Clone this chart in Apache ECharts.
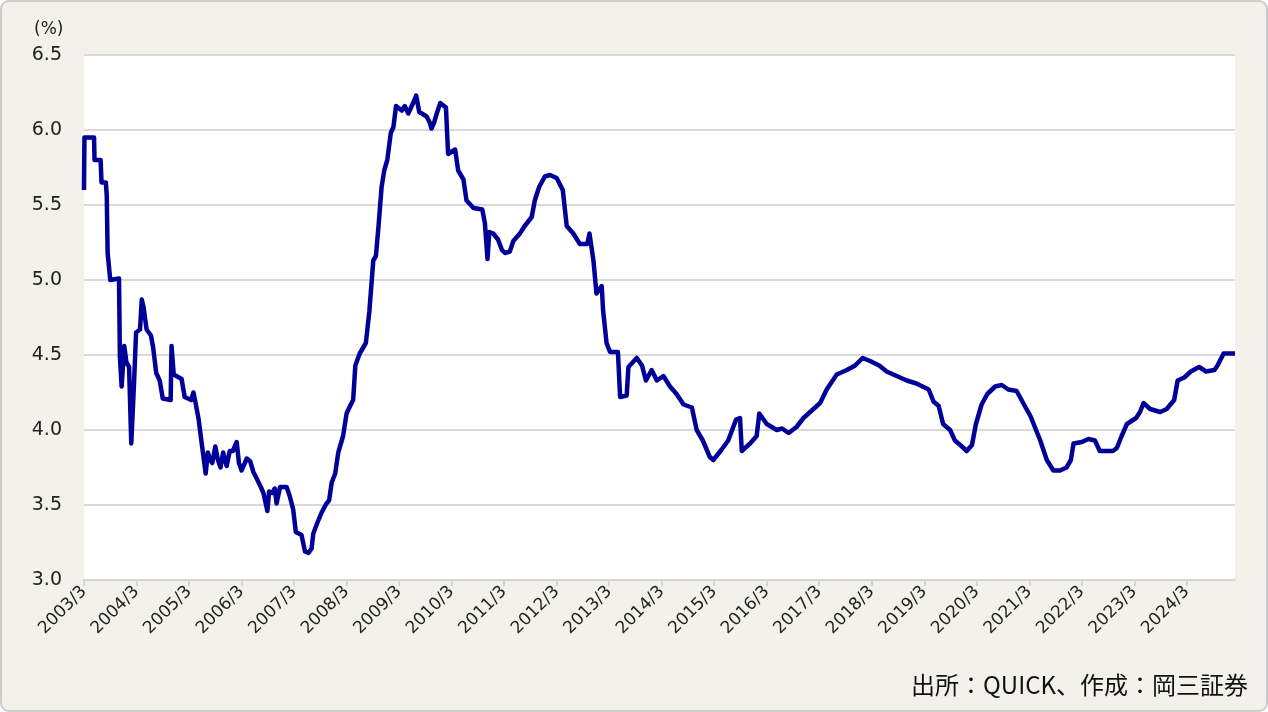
<!DOCTYPE html>
<html>
<head>
<meta charset="utf-8">
<script src="https://cdn.jsdelivr.net/npm/echarts@6/dist/echarts.min.js"></script>
<style>
html,body{margin:0;padding:0;background:#fff;}
#chart{width:1268px;height:712px;}
</style>
</head>
<body>
<div id="chart"></div>
<script>
// Observation dates (YYYY/MM/DD) and yields (%)
const dates = [
"2003/03/01","2003/03/04","2003/05/10","2003/05/13","2003/06/25","2003/07/01","2003/08/01","2003/08/07","2003/08/13","2003/09/01",
"2003/11/01","2003/11/07","2003/11/19","2003/12/07","2003/12/22","2004/01/10","2004/01/25","2004/02/04","2004/02/13","2004/02/28",
"2004/03/25","2004/04/07","2004/04/19","2004/05/10","2004/06/10","2004/06/25","2004/07/16","2004/08/10","2004/09/01","2004/10/25",
"2004/11/01","2004/11/16","2005/01/10","2005/02/01","2005/03/16","2005/04/01","2005/04/16","2005/05/07","2005/05/28","2005/06/25",
"2005/07/10","2005/07/25","2005/08/10","2005/09/01","2005/09/19","2005/10/07","2005/10/25","2005/11/19","2005/12/10","2006/01/01",
"2006/01/28","2006/02/13","2006/03/01","2006/04/07","2006/05/01","2006/05/22","2006/06/13","2006/07/13","2006/08/01","2006/08/28",
"2006/09/10","2006/10/01","2006/10/19","2006/11/01","2006/11/25","2007/01/10","2007/02/01","2007/02/25","2007/03/13","2007/04/22",
"2007/05/16","2007/06/10","2007/07/01","2007/07/13","2007/08/10","2007/09/10","2007/10/13","2007/11/01","2007/11/19","2007/12/13",
"2008/01/04","2008/02/07","2008/03/01","2008/03/25","2008/04/16","2008/05/01","2008/06/01","2008/07/13","2008/08/07","2008/09/04",
"2008/09/22","2008/10/10","2008/11/01","2008/11/19","2008/12/10","2009/01/04","2009/01/22","2009/02/10","2009/03/19","2009/04/10",
"2009/05/04","2009/06/07","2009/06/28","2009/07/19","2009/09/10","2009/10/01","2009/10/13","2009/11/01","2009/11/19","2009/12/13",
"2010/01/22","2010/02/07","2010/03/25","2010/04/16","2010/05/22","2010/06/13","2010/08/01","2010/10/01","2010/10/19","2010/11/07",
"2010/11/19","2010/12/16","2011/01/19","2011/02/16","2011/03/07","2011/04/10","2011/05/04","2011/06/19","2011/07/22","2011/09/10",
"2011/10/01","2011/11/01","2011/12/10","2012/01/16","2012/03/01","2012/04/13","2012/05/10","2012/06/25","2012/08/10","2012/10/01",
"2012/10/16","2012/11/13","2012/12/04","2013/01/10","2013/01/19","2013/02/13","2013/03/07","2013/05/01","2013/05/16","2013/07/01",
"2013/07/13","2013/09/10","2013/10/16","2013/11/13","2013/12/22","2014/01/28","2014/03/13","2014/04/28","2014/06/13","2014/08/01",
"2014/09/28","2014/11/01","2014/12/13","2015/02/01","2015/02/25","2015/04/22","2015/06/07","2015/08/01","2015/08/28","2015/09/10",
"2015/11/07","2015/12/22","2016/01/10","2016/03/01","2016/05/10","2016/06/16","2016/08/01","2016/09/25","2016/11/13","2017/01/10",
"2017/03/07","2017/04/22","2017/07/01","2017/09/10","2017/11/07","2017/12/28","2018/02/19","2018/04/22","2018/06/13","2018/08/22",
"2018/11/01","2019/01/07","2019/04/01","2019/05/04","2019/06/10","2019/07/10","2019/08/28","2019/10/01","2019/11/19","2019/12/22",
"2020/01/28","2020/02/25","2020/04/04","2020/05/13","2020/07/07","2020/08/22","2020/10/07","2020/12/04","2021/01/19","2021/03/10",
"2021/05/16","2021/07/01","2021/08/16","2021/10/01","2021/11/16","2021/12/16","2022/01/04","2022/03/01","2022/04/16","2022/06/01",
"2022/07/04","2022/10/04","2022/11/01","2022/12/04","2023/01/10","2023/03/13","2023/04/10","2023/05/04","2023/06/19","2023/08/28",
"2023/10/13","2023/12/04","2023/12/28","2024/02/13","2024/03/28","2024/05/25","2024/07/13","2024/09/10","2024/10/01","2024/11/13",
"2025/01/19","2025/02/01"
];
const yields = [
5.60,5.95,5.95,5.80,5.80,5.65,5.65,5.56,5.18,5.00,
5.01,4.49,4.29,4.56,4.45,4.42,3.91,3.91,4.29,4.65,
4.67,4.87,4.82,4.67,4.63,4.55,4.38,4.33,4.21,4.20,
4.56,4.37,4.34,4.22,4.20,4.25,4.18,4.07,3.91,3.71,
3.85,3.80,3.78,3.89,3.80,3.75,3.85,3.76,3.86,3.86,
3.92,3.78,3.73,3.81,3.79,3.72,3.68,3.62,3.58,3.46,
3.59,3.58,3.61,3.51,3.62,3.62,3.56,3.47,3.32,3.30,
3.19,3.18,3.21,3.31,3.38,3.45,3.51,3.53,3.65,3.71,
3.85,3.96,4.11,4.16,4.20,4.43,4.51,4.58,4.79,5.13,
5.16,5.36,5.62,5.73,5.80,5.98,6.02,6.16,6.13,6.16,
6.11,6.18,6.23,6.12,6.09,6.05,6.01,6.05,6.11,6.18,
6.15,5.84,5.87,5.73,5.67,5.53,5.48,5.47,5.38,5.14,
5.32,5.31,5.27,5.20,5.18,5.19,5.26,5.31,5.36,5.42,
5.53,5.62,5.69,5.70,5.68,5.60,5.36,5.31,5.24,5.24,
5.31,5.13,4.91,4.96,4.80,4.58,4.52,4.52,4.22,4.23,
4.42,4.48,4.43,4.33,4.40,4.33,4.36,4.29,4.24,4.17,
4.15,4.00,3.93,3.82,3.80,3.87,3.93,4.07,4.08,3.86,
3.91,3.96,4.11,4.04,4.00,4.01,3.98,4.02,4.08,4.13,
4.18,4.27,4.37,4.40,4.43,4.48,4.46,4.43,4.39,4.36,
4.33,4.31,4.27,4.19,4.16,4.04,4.00,3.93,3.89,3.86,
3.90,4.04,4.17,4.24,4.29,4.30,4.27,4.26,4.18,4.09,
3.93,3.80,3.73,3.73,3.75,3.80,3.91,3.92,3.94,3.93,
3.86,3.86,3.88,3.96,4.04,4.08,4.12,4.18,4.14,4.12,
4.14,4.20,4.33,4.35,4.39,4.42,4.39,4.40,4.43,4.51,
4.51,4.51
];
const startYear = 2003, startMonth = 3, endDate = "2025/02/01";
const yTicks = [3.0, 3.5, 4.0, 4.5, 5.0, 5.5, 6.0, 6.5];
const unitLabel = "(%)";
const sourceText = "出所：QUICK、作成：岡三証券";

function monthIndex(s) {
  const p = s.split('/').map(Number);
  return (p[0] - startYear) * 12 + (p[1] - startMonth) + (p[2] - 1) / 30;
}
const xMax = monthIndex(endDate);
const labelVals = [];
for (let v = 0; v <= xMax; v += 12) labelVals.push(v);
const seriesData = dates.map((d, i) => [monthIndex(d), yields[i]]);

const chart = echarts.init(document.getElementById('chart'));
chart.setOption({
  animation: false,
  backgroundColor: 'transparent',
  graphic: [
    { type: 'rect', z: -10, silent: true,
      shape: { x: 1, y: 1, width: 1266, height: 710, r: 8 },
      style: { fill: '#f2f1ea', stroke: '#cdcdcd', lineWidth: 2 } },
    { type: 'text', left: 34, top: 21,
      style: { text: unitLabel, fontSize: 17, fill: '#222', fontFamily: 'DejaVu Sans' } },
    { type: 'text', right: 20, top: 673,
      style: { text: sourceText, fontSize: 24, fill: '#111', fontFamily: 'Noto Sans CJK JP' } }
  ],
  grid: { left: 84, right: 33, top: 55, bottom: 132, show: true, backgroundColor: '#ffffff', borderWidth: 0 },
  xAxis: {
    type: 'value', min: 0, max: xMax, interval: 12,
    axisLine: { show: true, lineStyle: { color: '#d4d4d4', width: 2 } },
    axisTick: { show: true, length: 6, customValues: labelVals, lineStyle: { color: '#d4d4d4', width: 2 } },
    splitLine: { show: false },
    axisLabel: {
      customValues: labelVals,
      rotate: 45, fontSize: 17, color: '#222', fontFamily: 'DejaVu Sans', margin: 9,
      formatter: v => (startYear + Math.round(v / 12)) + '/' + startMonth
    }
  },
  yAxis: {
    type: 'value', min: yTicks[0], max: yTicks[yTicks.length - 1], interval: 0.5,
    axisLine: { show: false }, axisTick: { show: false },
    splitLine: { show: true, lineStyle: { color: '#d9d9d9', width: 2 } },
    axisLabel: { fontSize: 19, color: '#222', fontFamily: 'DejaVu Sans', margin: 22,
      formatter: v => v.toFixed(1) }
  },
  series: [{
    type: 'line', data: seriesData, showSymbol: false, symbol: 'none',
    lineStyle: { color: '#000099', width: 4.5, join: 'round' },
    clip: true
  }]
});
</script>
</body>
</html>
